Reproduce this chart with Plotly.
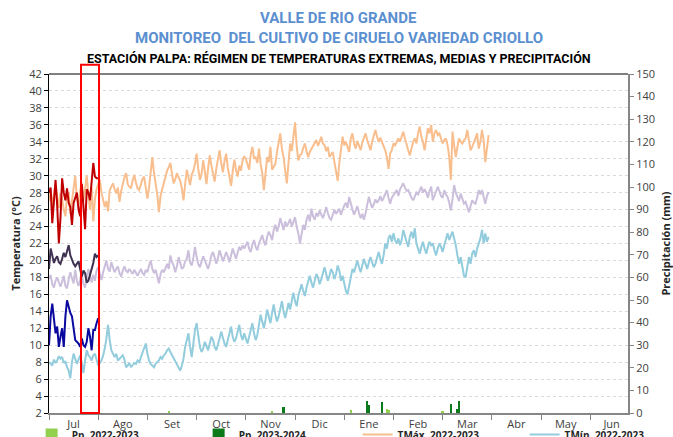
'''Valle de Rio Grande - Estacion Palpa: temperaturas extremas, medias y precipitacion'''

#%% Imports

import plotly.graph_objects as go


#%% Data

# eje x: dia de campaña contado desde el 1 de julio
month_labels = ['Jul', 'Ago', 'Set', 'Oct', 'Nov', 'Dic',
                'Ene', 'Feb', 'Mar', 'Abr', 'May', 'Jun']
month_edges = [0, 30, 60, 90, 120, 150, 180, 210, 240, 270, 300, 330]
month_mid = [15, 45, 75, 105, 135, 165, 195, 225, 255, 285, 315, 343]

# campaña 2022-2023 (jul - mar)
tmax_2223 = [
    27.0, 28.2, 26.5, 27.8, 29.0, 27.5, 26.2, 28.0, 27.2, 26.0, 25.2, 27.6, 28.0, 25.5, 26.8,
    28.4, 30.0, 27.4, 26.6, 28.2, 29.2, 27.0, 28.5, 30.0, 27.8, 26.0, 28.6, 24.6, 27.2, 28.4,
    29.0, 29.5, 28.0, 27.2, 26.3, 27.0, 25.8, 28.3, 28.8, 29.1, 28.4, 27.9, 28.6, 26.9, 28.2,
    29.1, 29.8, 30.3, 29.0, 28.7, 28.5, 29.4, 30.1, 29.2, 28.5, 28.3, 29.0, 29.6, 29.9, 28.4,
    27.3, 28.6, 30.2, 32.2, 30.4, 29.1, 27.8, 25.7, 27.6, 28.4, 29.2, 29.9, 30.6, 31.0, 31.5,
    30.2, 29.1, 29.6, 30.3, 29.8, 29.4, 28.5, 27.1, 29.0, 30.7, 29.8, 28.9, 30.1, 30.6, 31.4,
    32.6, 30.8, 29.5, 30.2, 31.8, 30.5, 29.0, 30.9, 32.4, 31.2, 30.0, 29.3, 30.8, 32.0, 33.0,
    31.5, 30.4, 31.7, 32.6, 31.0, 29.6, 28.8, 30.5, 31.9, 30.7, 29.9, 31.2, 30.6, 31.8, 32.3,
    32.0, 31.2, 30.7, 32.5, 33.4, 32.0, 32.2, 31.5, 33.2, 31.4, 30.3, 28.3, 30.4, 32.2, 31.6,
    33.4, 30.7, 31.0, 31.4, 32.8, 33.8, 35.0, 33.2, 32.2, 30.6, 29.1, 31.5, 33.8, 32.9, 34.6,
    36.3, 33.5, 31.8, 32.4, 32.6, 33.3, 33.8, 32.9, 32.2, 32.8, 33.2, 33.6, 33.9, 34.2, 33.5,
    34.0, 34.6, 33.8, 33.6, 32.9, 33.4, 32.2, 32.6, 32.8, 31.6, 30.5, 29.4, 31.5, 33.0, 34.6,
    33.6, 34.0, 33.4, 32.8, 34.4, 35.0, 33.8, 33.2, 34.1, 33.6, 33.0, 33.9, 34.4, 35.0, 34.2,
    33.6, 33.0, 34.0, 34.8, 35.4, 34.6, 34.0, 34.5, 34.0, 33.4, 33.0, 32.2, 30.8, 32.6, 33.0,
    33.8, 33.6, 34.0, 34.4, 34.0, 34.6, 35.2, 34.4, 33.6, 33.0, 32.4, 33.4, 34.0, 34.4, 33.8,
    35.0, 35.8, 34.6, 34.0, 33.0, 34.4, 35.6, 35.0, 36.0, 34.0, 35.0, 35.4, 34.8, 35.0, 34.4,
    33.8, 34.2, 34.4, 33.6, 32.2, 29.5, 35.2, 33.6, 32.2, 33.4, 34.4, 34.0, 33.8, 34.2, 34.4,
    35.4, 34.2, 33.0, 33.4, 33.8, 34.4, 35.0, 33.2, 34.0, 35.4, 34.2, 31.6, 33.2, 34.8,
]

tmed_2223 = [
    17.8, 18.3, 17.2, 16.8, 17.6, 18.0, 17.4, 16.9, 17.5, 18.2, 17.0, 16.7, 17.8, 18.6, 17.9,
    17.3, 18.9, 17.6, 17.0, 17.8, 18.4, 17.2, 16.8, 18.0, 19.0, 18.2, 17.4, 18.3, 17.6, 18.8,
    19.2, 18.4, 17.7, 18.6, 19.4, 20.0, 19.0, 18.7, 19.8, 19.1, 18.6, 19.0, 19.3, 18.5, 18.1,
    18.8, 19.3, 18.8, 18.6, 19.0, 18.7, 18.4, 18.9, 18.5, 18.2, 18.6, 19.0, 18.5, 18.3, 18.9,
    18.6, 19.4, 20.0, 19.0, 18.5, 18.9, 18.2, 17.3, 18.4, 18.9, 18.6, 19.2, 19.6, 19.0, 20.6,
    19.8, 19.4, 18.6, 19.3, 20.4, 19.5, 19.0, 19.2, 19.9, 20.2, 21.2, 19.8, 19.4, 20.3, 21.6,
    20.4, 19.6, 19.2, 19.8, 20.5, 20.0, 19.4, 19.0, 19.7, 20.6, 21.0, 20.2, 19.6, 20.3, 21.2,
    20.6, 19.9, 20.4, 21.0, 20.5, 19.8, 20.6, 21.4, 20.8, 20.2, 20.9, 21.6, 21.2, 21.8, 21.4,
    21.8, 22.2, 21.4, 21.0, 21.9, 22.4, 21.6, 21.2, 22.0, 22.6, 23.0, 22.2, 21.8, 22.8, 23.4,
    23.0, 22.4, 23.6, 24.2, 23.4, 24.0, 25.0, 24.2, 23.6, 24.6, 24.0, 24.4, 24.9, 24.0, 24.6,
    25.1, 24.0, 23.2, 22.0, 23.4, 24.2, 23.6, 24.8, 25.4, 24.6, 26.1, 25.2, 24.8, 25.6, 25.2,
    25.9, 25.4, 25.0, 25.6, 26.3, 25.6, 25.0, 24.8, 25.4, 26.0, 25.5, 25.8, 26.1, 25.4, 26.0,
    26.5, 26.8, 26.2, 27.5, 26.6, 26.0, 25.4, 25.8, 26.4, 25.6, 25.0, 25.5, 24.8, 25.6, 26.6,
    27.5, 26.8, 26.2, 26.6, 27.2, 26.8, 27.1, 27.6, 27.0, 27.4, 27.8, 28.3, 27.4, 26.7, 27.4,
    27.8, 28.0, 28.3, 27.6, 28.4, 28.8, 29.1, 28.6, 28.2, 28.3, 27.8, 27.4, 27.1, 27.6, 28.0,
    27.8, 28.3, 28.7, 28.0, 28.4, 28.0, 27.4, 28.2, 28.7, 27.1, 27.6, 28.0, 28.7, 28.2, 27.6,
    27.4, 28.3, 27.8, 27.5, 26.8, 25.9, 27.2, 28.9, 28.0, 27.5, 27.0, 27.9, 27.4, 26.7, 26.9,
    26.3, 25.7, 26.4, 27.1, 26.8, 26.7, 27.4, 28.3, 27.8, 28.3, 27.5, 26.7, 27.6, 28.1,
]

tmin_2223 = [
    8.0, 7.8, 7.6, 8.3, 7.9, 8.2, 8.7, 8.4, 8.6, 7.9, 8.1, 7.4, 7.0, 6.1, 8.0,
    9.0, 8.4, 7.8, 8.3, 8.8, 7.9, 6.7, 8.2, 9.4, 8.8, 8.6, 8.2, 8.8, 9.0, 8.4,
    7.6, 7.9, 8.2, 8.8, 9.6, 10.8, 12.4, 10.6, 9.4, 9.0, 8.6, 9.0, 8.2, 8.4, 8.6,
    8.8, 8.3, 7.4, 7.6, 7.9, 7.4, 7.6, 7.9, 7.8, 8.2, 8.0, 8.6, 9.0, 9.6, 10.2,
    9.0, 8.2, 7.8, 7.6, 7.4, 7.8, 8.0, 8.2, 8.6, 8.4, 8.8, 9.0, 9.4, 9.6, 9.2,
    8.8, 8.6, 8.2, 7.8, 7.4, 7.0, 7.6, 8.4, 9.8, 10.6, 11.4, 9.8, 8.6, 10.2, 11.8,
    12.6, 11.0, 9.8, 9.2, 9.6, 10.4, 9.8, 9.4, 10.2, 11.0, 10.6, 9.8, 9.4, 10.0, 10.8,
    11.6, 10.8, 10.2, 9.8, 10.6, 11.4, 12.2, 11.0, 10.4, 10.8, 11.6, 12.4, 11.2, 10.6, 11.4,
    10.8, 10.2, 11.0, 11.8, 12.6, 11.4, 10.6, 11.2, 12.4, 13.6, 12.8, 12.0, 13.0, 14.2, 13.4,
    12.6, 13.8, 14.8, 13.6, 12.8, 13.4, 14.4, 15.2, 14.0, 13.2, 14.0, 15.0, 14.2, 15.4, 16.2,
    15.2, 14.6, 15.8, 16.6, 17.2, 16.4, 15.8, 16.8, 17.6, 18.2, 17.4, 16.8, 17.6, 18.4, 18.0,
    17.2, 17.8, 18.6, 19.2, 18.4, 17.6, 18.2, 19.0, 18.6, 17.8, 18.4, 19.4, 18.8, 17.6, 18.2,
    17.2, 16.4, 16.0, 17.0, 18.2, 19.0, 18.6, 19.4, 20.0, 19.2, 18.6, 19.4, 20.2, 19.6, 19.0,
    19.8, 20.4, 19.8, 19.2, 19.6, 20.4, 21.0, 20.2, 19.6, 20.6, 22.0, 21.4, 22.6, 23.0, 22.2,
    23.2, 22.4, 22.0, 22.6, 21.8, 22.4, 23.6, 22.8, 22.2, 21.6, 22.8, 23.4, 22.6, 23.8, 22.0,
    21.4, 20.8, 21.6, 22.2, 21.4, 20.8, 21.6, 22.2, 21.8, 22.0, 21.2, 20.6, 21.4, 22.0, 21.6,
    21.0, 21.8, 22.6, 23.2, 22.4, 23.0, 23.4, 22.6, 21.8, 20.6, 19.6, 20.4, 19.0, 18.2, 18.0,
    19.2, 20.4, 19.6, 20.8, 21.2, 20.4, 21.4, 22.0, 22.6, 23.6, 22.0, 23.2, 22.2, 22.8,
]

# campaña 2023-2024 (julio)
tmax_2324 = [28.0, 28.6, 24.4, 27.0, 29.5, 26.5, 22.0, 25.0, 29.7, 28.0, 27.1, 28.5, 26.8, 26.3, 24.2, 26.8,
             27.5, 28.0, 26.0, 25.2, 29.0, 26.3, 23.7, 28.4, 28.0, 27.1, 29.0, 31.5, 29.9, 29.7, 29.7]
tmed_2324 = [19.0, 21.4, 20.6, 19.7, 20.2, 20.5, 19.8, 19.6, 20.2, 20.9, 20.4, 21.0, 21.8, 20.6, 20.0, 19.6,
             19.3, 19.6, 19.9, 19.0, 18.1, 18.8, 18.5, 17.4, 17.6, 18.3, 19.0, 19.7, 20.8, 20.4, 20.6]
tmin_2324 = [10.0, 13.4, 14.9, 13.0, 11.4, 12.2, 9.8, 11.0, 12.0, 9.8, 13.4, 15.3, 14.5, 13.8, 13.4, 12.2,
             10.6, 10.4, 10.2, 9.8, 10.8, 10.0, 9.8, 10.4, 12.0, 11.0, 9.4, 11.8, 11.8, 12.6, 13.2]

# precipitacion (mm)
pp_2223_day = [73, 136, 184, 206, 207, 240]
pp_2223 = [0.8, 0.8, 1.3, 1.8, 1.5, 1.0]
pp_2324_day = [143, 194, 195, 203, 245, 249, 250]
pp_2324 = [2.8, 5.4, 3.5, 5.0, 4.0, 1.8, 5.4]

days_2223 = list(range(len(tmax_2223)))
days_2324 = list(range(len(tmax_2324)))


#%% Figure

fig = go.Figure()

fig.add_trace(go.Bar(x=pp_2223_day, y=pp_2223, yaxis='y2', width=1.5,
                     marker=dict(color='#92D050', line=dict(width=0)),
                     name='Pp. 2022-2023', legend='legend'))
fig.add_trace(go.Bar(x=pp_2324_day, y=pp_2324, yaxis='y2', width=1.5,
                     marker=dict(color='#0B7A1A', line=dict(width=0)),
                     name='Pp. 2023-2024', legend='legend'))

# la segunda fila de la leyenda queda fuera del cuadro, como en el original
series = [(tmax_2223, days_2223, '#F9BE8E', 'TMáx. 2022-2023', True),
          (tmin_2223, days_2223, '#93CDDD', 'TMín. 2022-2023', True),
          (tmed_2223, days_2223, '#CBBFDC', 'TMed. 2022-2023', False),
          (tmax_2324, days_2324, '#C00000', 'TMáx. 2023-2024', False),
          (tmin_2324, days_2324, '#0A0AA0', 'TMín. 2023-2024', False),
          (tmed_2324, days_2324, '#3F3151', 'TMed. 2023-2024', False)]

for values, days, color, name, in_legend in series:
    fig.add_trace(go.Scatter(x=days, y=values, mode='lines',
                             line=dict(color=color, width=2),
                             name=name,
                             legend='legend2',
                             showlegend=in_legend))

legend_style = dict(orientation='h',
                    xanchor='left', yanchor='top',
                    entrywidth=122, entrywidthmode='pixels',
                    font=dict(size=10, color='#262626', weight='bold'),
                    itemwidth=30,
                    bgcolor='rgba(0,0,0,0)')

fig.update_layout(width=673,
                  height=437,
                  autosize=False,
                  margin=dict(l=49, r=45, t=74, b=24, autoexpand=False),
                  plot_bgcolor='white',
                  paper_bgcolor='white',
                  font=dict(family='Open Sans', size=11, color='#404040'),
                  bargap=0,
                  showlegend=True,
                  legend=dict(x=-0.03, y=-0.021, **legend_style),
                  legend2=dict(x=0.533, y=-0.021, **legend_style))

fig.update_xaxes(range=[0, 353],
                 tickmode='array',
                 tickvals=month_mid,
                 ticktext=month_labels,
                 ticks='',
                 showline=True,
                 linecolor='#868686',
                 linewidth=2,
                 showgrid=False,
                 zeroline=False,
                 tickfont=dict(size=11, color='#404040'),
                 minor=dict(tickmode='array',
                            tickvals=month_edges,
                            ticks='outside',
                            ticklen=5,
                            tickcolor='#868686',
                            showgrid=False))

fig.update_layout(
    yaxis=dict(range=[2, 42],
               tick0=2, dtick=2,
               showline=True, linecolor='black', linewidth=1,
               ticks='outside', ticklen=4, tickcolor='black',
               showgrid=True, gridcolor='#D9D9D9', griddash='dot',
               zeroline=False,
               tickfont=dict(size=11, color='#404040'),
               title=dict(text='Temperatura (°C)', standoff=6,
                          font=dict(size=11, color='#262626', weight='bold'))),
    yaxis2=dict(range=[0, 150],
                tick0=0, dtick=10,
                overlaying='y', side='right',
                showline=True, linecolor='#868686', linewidth=2,
                ticks='outside', ticklen=4, tickcolor='#868686',
                showgrid=False, zeroline=False,
                tickfont=dict(size=11, color='#404040'),
                title=dict(text='Precipitación (mm)', standoff=8,
                           font=dict(size=11, color='#262626', weight='bold'))))

# borde superior y recuadro rojo sobre la segunda quincena de julio
fig.add_shape(type='line', xref='paper', yref='paper',
              x0=0, x1=1, y0=1, y1=1,
              line=dict(color='black', width=1))
fig.add_shape(type='rect', xref='paper', yref='paper',
              x0=0.0553, x1=0.0864, y0=0, y1=1.027,
              line=dict(color='#FF0000', width=2))

titles = [('VALLE DE RIO GRANDE', 1.165, '#5B8FD0', 15),
          ('MONITOREO  DEL CULTIVO DE CIRUELO VARIEDAD CRIOLLO', 1.106, '#5B8FD0', 15),
          ('ESTACIÓN PALPA: RÉGIMEN DE TEMPERATURAS EXTREMAS, MEDIAS Y PRECIPITACIÓN', 1.047, 'black', 12.5)]

for text, ypos, color, size in titles:
    fig.add_annotation(text=text, xref='paper', yref='paper',
                       x=0.5, y=ypos, xanchor='center', yanchor='middle',
                       showarrow=False,
                       font=dict(family='Roboto', size=size, color=color, weight='bold'))

# sin margen del <body>, para que la figura empiece en (0, 0)
fig.write_html('out.html',
               config={'displayModeBar': False},
               post_script="document.body.style.margin='0';document.body.style.overflow='hidden';")
